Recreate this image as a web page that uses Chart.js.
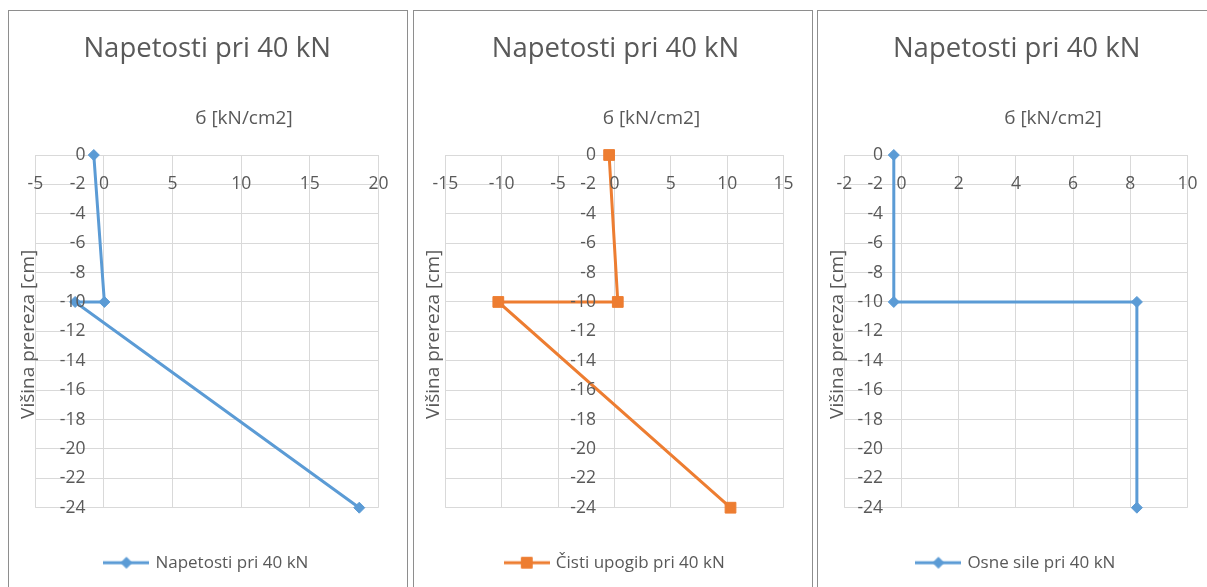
<!DOCTYPE html>
<html>
<head>
<meta charset="utf-8">
<title>Napetosti pri 40 kN</title>
<script src="https://cdn.jsdelivr.net/npm/chart.js@4.4.1/dist/chart.umd.min.js"></script>
<style>
  html, body { margin: 0; padding: 0; background: #fff; width: 1207px; height: 587px; overflow: hidden; }
  .panel { position: absolute; top: 10px; width: 398px; height: 610px; border: 1px solid #8e8e8e; background: #fff; }
  .panel canvas { display: block; }
</style>
</head>
<body>
<div class="panel" style="left:8px"><canvas id="total" width="398" height="610" style="width:398px;height:610px"></canvas></div>
<div class="panel" style="left:413px"><canvas id="bending" width="398" height="610" style="width:398px;height:610px"></canvas></div>
<div class="panel" style="left:817px"><canvas id="axial" width="398" height="610" style="width:398px;height:610px"></canvas></div>
<script>
// Section height (cm) of each point, shared by all three diagrams
const depth = [0, -10, -10, -24];

// Stress σ [kN/cm2] at those heights
const stressTotal   = [-0.74, 0.03, -2.1, 18.6];   // Napetosti pri 40 kN
const stressBending = [-0.47, 0.3, -10.3, 10.3];   // Čisti upogib pri 40 kN
const stressAxial   = [-0.27, -0.27, 8.23, 8.23];  // Osne sile pri 40 kN

// Tick labels
const depthTicks   = [0, -2, -4, -6, -8, -10, -12, -14, -16, -18, -20, -22, -24];
const totalTicks   = [-5, 0, 5, 10, 15, 20];
const bendingTicks = [-15, -10, -5, 0, 5, 10, 15];
const axialTicks   = [-2, 0, 2, 4, 6, 8, 10];

// Texts
const chartTitle = 'Napetosti pri 40 kN';
const xCaption = 'б [kN/cm2]';
const yCaption = 'Višina prereza [cm]';

const FONT = 'Open Sans';
const TEXT = '#595959';
const GRID = '#d9d9d9';
const BLUE = '#5b9bd5';
const ORANGE = '#ed7d31';
const CANVAS_W = 398;
const LABEL_GAP = 19; // px between y tick labels and the zero line

// Axis captions: the σ caption above the plot and the rotated height caption
const axisCaptions = {
  id: 'axisCaptions',
  afterDraw(chart, args, opts) {
    const { ctx, chartArea: a } = chart;
    ctx.save();
    ctx.fillStyle = opts.color;
    ctx.font = opts.size + 'px "' + FONT + '"';
    ctx.textAlign = 'center';
    ctx.textBaseline = 'middle';
    ctx.fillText(opts.xText, (a.left + a.right) / 2 + opts.xShift, a.top - opts.xGap);
    ctx.translate(opts.yX, (a.top + a.bottom) / 2 + opts.yShift);
    ctx.rotate(-Math.PI / 2);
    ctx.fillText(opts.yText, 0, 0);
    ctx.restore();
  }
};

// Legend sample: a short line with the series marker in the middle
function legendIcon(color, marker, radius) {
  const c = document.createElement('canvas');
  c.width = 46; c.height = 18;
  const g = c.getContext('2d');
  g.strokeStyle = color; g.lineWidth = 3;
  g.beginPath(); g.moveTo(0, 9); g.lineTo(46, 9); g.stroke();
  g.fillStyle = color; g.lineWidth = 1;
  Chart.helpers.drawPoint(g, { pointStyle: marker, radius: radius, borderWidth: 1, rotation: 0 }, 23, 9);
  return c;
}

function useTicks(values) {
  return scale => { scale.ticks = values.map(v => ({ value: v })); };
}

function makeChart(id, cfg) {
  const plotW = CANVAS_W - cfg.padLeft - cfg.padRight;
  const span = cfg.ticks[cfg.ticks.length - 1] - cfg.ticks[0];
  const yLabelAt = -LABEL_GAP * span / plotW;
  return new Chart(document.getElementById(id), {
    type: 'scatter',
    data: {
      datasets: [{
        label: cfg.label,
        data: cfg.values.map((x, i) => ({ x: x, y: depth[i] })),
        showLine: true,
        borderColor: cfg.color,
        backgroundColor: cfg.color,
        borderWidth: 3,
        tension: 0,
        pointStyle: cfg.marker,
        pointRadius: cfg.radius,
        pointBorderWidth: 1,
        pointBorderColor: cfg.color,
        pointBackgroundColor: cfg.color,
        clip: false
      }]
    },
    options: {
      responsive: false,
      animation: false,
      events: [],
      layout: { padding: { left: cfg.padLeft, right: cfg.padRight, top: 0, bottom: 39.8 } },
      plugins: {
        title: {
          display: true,
          text: chartTitle,
          color: TEXT,
          font: { family: FONT, size: 27.5, weight: 'normal' },
          padding: { top: 22, bottom: 89 }
        },
        legend: {
          position: 'bottom',
          labels: {
            usePointStyle: true,
            pointStyle: legendIcon(cfg.color, cfg.marker, cfg.radius),
            pointStyleWidth: 41,
            boxHeight: 17,
            padding: 46.5,
            color: TEXT,
            font: { family: FONT, size: 17 }
          }
        },
        tooltip: { enabled: false },
        axisCaptions: { color: TEXT, size: 19, xText: xCaption, yText: yCaption, xShift: 37, xGap: 36, yX: 19.5, yShift: 3 }
      },
      scales: {
        x: {
          type: 'linear',
          position: { y: 0 },
          min: cfg.ticks[0],
          max: cfg.ticks[cfg.ticks.length - 1],
          afterBuildTicks: useTicks(cfg.ticks),
          afterFit: s => { s.height = 0; },
          grid: { color: GRID, lineWidth: 1, drawTicks: false },
          border: { display: false },
          ticks: { padding: 18.5, color: TEXT, font: { family: FONT, size: 17.5 }, maxRotation: 0, autoSkip: false, z: 1 }
        },
        y: {
          type: 'linear',
          position: { x: yLabelAt },
          min: -24,
          max: 0,
          afterBuildTicks: useTicks(depthTicks),
          afterFit: s => { s.width = 0; },
          grid: { color: GRID, lineWidth: 1, drawTicks: false },
          border: { display: false },
          ticks: { color: TEXT, font: { family: FONT, size: 17.5 }, autoSkip: false, z: 1 }
        }
      }
    },
    plugins: [axisCaptions]
  });
}

makeChart('total',   { label: 'Napetosti pri 40 kN',    values: stressTotal,   ticks: totalTicks,   color: BLUE,   marker: 'rectRot', radius: 5.5, padLeft: 22,   padRight: 23.7 });
makeChart('bending', { label: 'Čisti upogib pri 40 kN', values: stressBending, ticks: bendingTicks, color: ORANGE, marker: 'rect',    radius: 7.6, padLeft: 27.7, padRight: 22.7 });
makeChart('axial',   { label: 'Osne sile pri 40 kN',    values: stressAxial,   ticks: axialTicks,   color: BLUE,   marker: 'rectRot', radius: 5.5, padLeft: 22,   padRight: 22.7 });
</script>
</body>
</html>
